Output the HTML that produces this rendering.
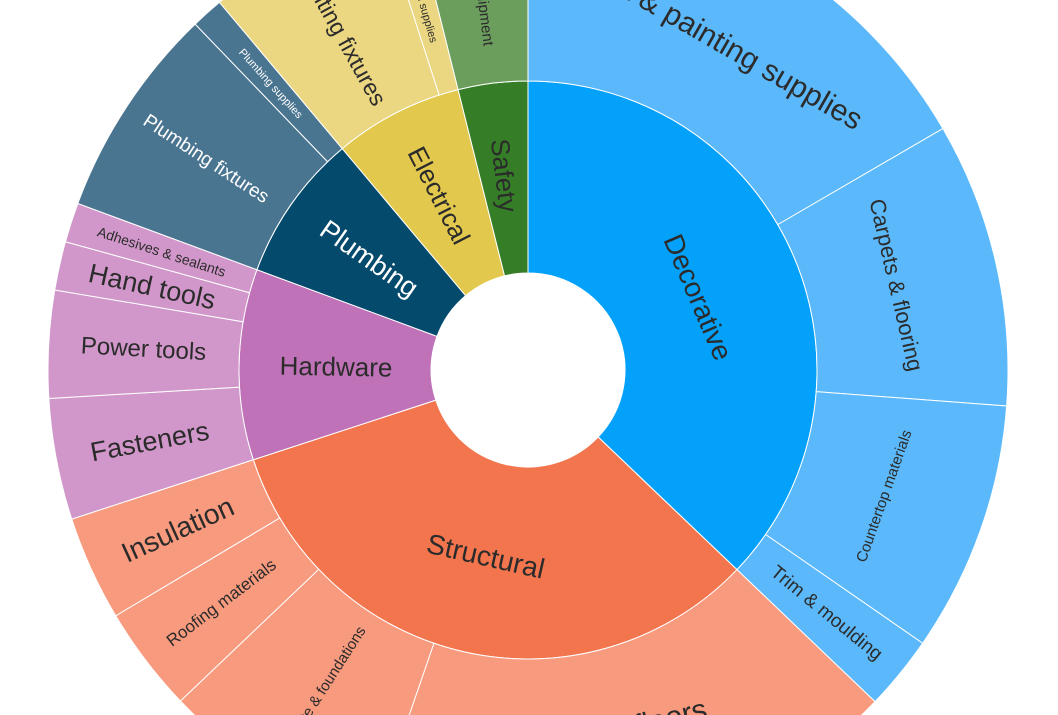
<!DOCTYPE html>
<html><head><meta charset="utf-8"><style>
html,body{margin:0;padding:0;background:#fff;overflow:hidden;width:1058px;height:715px}
svg{display:block;overflow:hidden}
text{font-family:"Liberation Sans",sans-serif;fill:#2b2b2b;text-anchor:middle;dominant-baseline:central}
.w{fill:#fff}
</style></head><body>
<svg id="s" width="1058" height="715" viewBox="0 0 1058 715" xmlns="http://www.w3.org/2000/svg">
<g id="shapes"></g>
<g id="labels">
<text font-size="28" transform="translate(528 370) rotate(66.85) translate(0 -185)">Decorative</text>
<text font-size="28" transform="translate(528 370) rotate(192.8) translate(0 -191) rotate(180)">Structural</text>
<text font-size="26" transform="translate(528 370) rotate(271) translate(0 -192) rotate(90)">Hardware</text>
<text class="w" font-size="27" transform="translate(528 370) rotate(305) translate(0 -194) rotate(90)">Plumbing</text>
<text font-size="26" transform="translate(528 370) rotate(333) translate(0 -196) rotate(90)">Electrical</text>
<text font-size="26" transform="translate(528 370) rotate(353) translate(0 -196) rotate(90)">Safety</text>

<text font-size="30" transform="translate(528 370) rotate(29.9) translate(0 -380)">Paint &amp; painting supplies</text>
<text font-size="22" transform="translate(528 370) rotate(77) translate(0 -378)">Carpets &amp; flooring</text>
<text font-size="15" transform="translate(528 370) rotate(109.5) translate(0 -378) rotate(180)">Countertop materials</text>
<text font-size="19" transform="translate(528 370) rotate(129.2) translate(0 -385) rotate(-90)">Trim &amp; moulding</text>
<text font-size="30" transform="translate(528 370) rotate(166) translate(0 -372) rotate(180)">Walls &amp; floors</text>
<text font-size="15" transform="translate(528 370) rotate(212.7) translate(0 -385) rotate(90)">Concrete &amp; foundations</text>
<text font-size="17" transform="translate(528 370) rotate(232.8) translate(0 -385) rotate(90)">Roofing materials</text>
<text font-size="28" transform="translate(528 370) rotate(245.5) translate(0 -385) rotate(90)">Insulation</text>
<text font-size="27" transform="translate(528 370) rotate(259.3) translate(0 -385) rotate(90)">Fasteners</text>
<text font-size="24" transform="translate(528 370) rotate(273.1) translate(0 -385) rotate(90)">Power tools</text>
<text font-size="27" transform="translate(528 370) rotate(282.5) translate(0 -385) rotate(90)">Hand tools</text>
<text font-size="14" transform="translate(528 370) rotate(287.9) translate(0 -385) rotate(90)">Adhesives &amp; sealants</text>
<text class="w" font-size="19" transform="translate(528 370) rotate(303.2) translate(0 -385) rotate(90)">Plumbing fixtures</text>
<text class="w" font-size="11" transform="translate(528 370) rotate(318) translate(0 -385) rotate(90)">Plumbing supplies</text>
<text font-size="23" transform="translate(528 370) rotate(331) translate(0 -385) rotate(90)">Lighting fixtures</text>
<text font-size="11" transform="translate(528 370) rotate(343.9) translate(0 -385) rotate(90)">Electrical supplies</text>
<text font-size="15" transform="translate(528 370) rotate(353) translate(0 -385) rotate(90)">Safety equipment</text>
</g>
</svg>
<script>
(function(){
var cx=528,cy=370,r0=97,r1=289,r2=480;
function pt(a,r){var t=a*Math.PI/180;return [cx+r*Math.sin(t),cy-r*Math.cos(t)];}
function arc(a0,a1,ri,ro,c){
 var large=(a1-a0)>180?1:0;
 var p1=pt(a0,ro),p2=pt(a1,ro),p3=pt(a1,ri),p4=pt(a0,ri);
 return '<path d="M'+p1+' A'+ro+','+ro+' 0 '+large+' 1 '+p2+' L'+p3+' A'+ri+','+ri+' 0 '+large+' 0 '+p4+' Z" fill="'+c+'" stroke="#fff" stroke-width="1"/>';
}
var inner=[[0,133.7,'#03a1fa'],[133.7,251.9,'#f2754e'],[251.9,290.3,'#bf72b8'],[290.3,320,'#044a6c'],[320,346,'#e3c84e'],[346,360,'#357e27']];
var outer=[[0,59.8,'#5bb9fb'],[59.8,94.3,'#5bb9fb'],[94.3,124.7,'#5bb9fb'],[124.7,133.7,'#5bb9fb'],
[133.7,199,'#f89a7e'],[199,226.4,'#f89a7e'],[226.4,239.2,'#f89a7e'],[239.2,251.9,'#f89a7e'],
[251.9,266.6,'#d197ca'],[266.6,279.6,'#d197ca'],[279.6,285.5,'#d197ca'],[285.5,290.3,'#d197ca'],
[290.3,316.1,'#4a7590'],[316.1,320,'#4a7590'],
[320,342.1,'#ebd782'],[342.1,346,'#ebd782'],[346,360,'#6b9e5d']];
var h='';
inner.forEach(function(s){h+=arc(s[0],s[1],r0,r1,s[2]);});
outer.forEach(function(s){h+=arc(s[0],s[1],r1,r2,s[2]);});
document.getElementById('shapes').innerHTML=h;
})();
</script>
</body></html>
